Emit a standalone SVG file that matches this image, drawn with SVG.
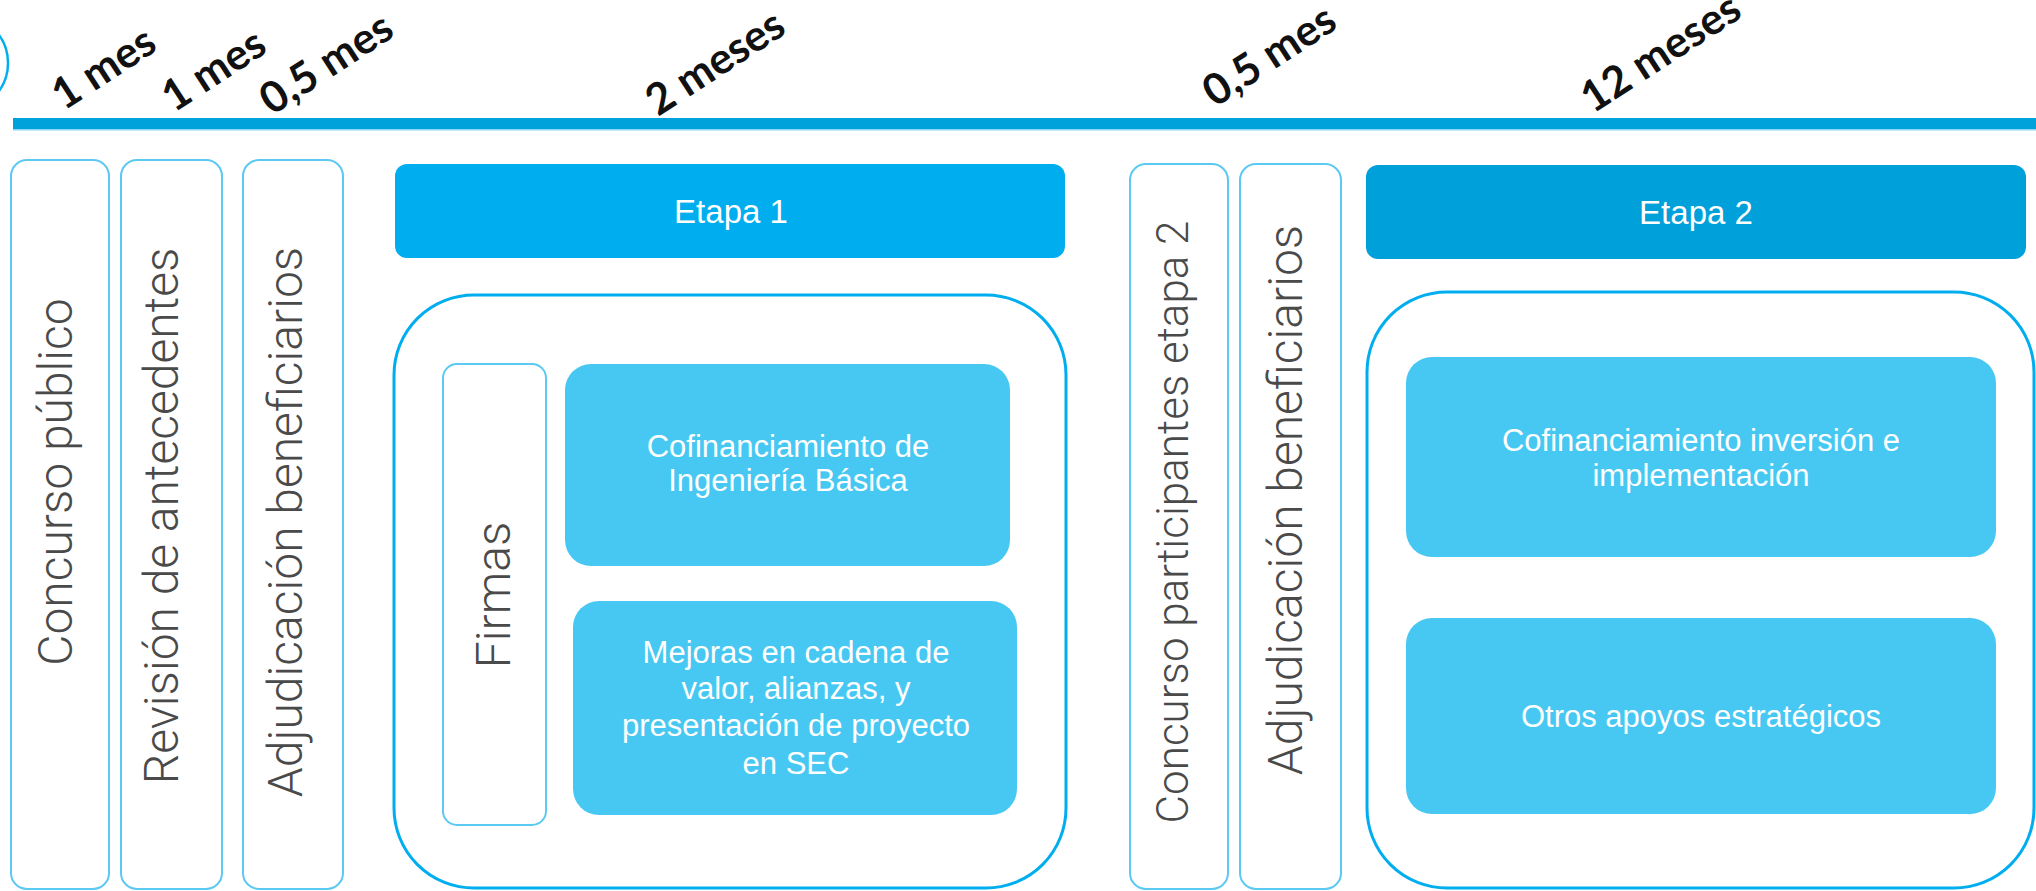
<svg xmlns="http://www.w3.org/2000/svg" width="2036" height="891" viewBox="0 0 2036 891">
<style>
.dur{font-family:Lato,"Liberation Sans",sans-serif;font-weight:700;font-size:43px;fill:#111}
.thin{fill:#fff;stroke:#5CC9F2;stroke-width:2}
.vlab{font-family:Roboto,"Liberation Sans",sans-serif;font-weight:300;font-size:48px;fill:#4a4a4a;text-anchor:middle}
.head{stroke:none}
.headtxt{font-family:"Liberation Sans",Arial,sans-serif;font-size:33px;fill:#fff;text-anchor:middle}
.cont{fill:#fff;stroke:#00AEEF;stroke-width:3}
.inner{fill:#47C8F2}
.itxt{font-family:"Liberation Sans",Arial,sans-serif;font-size:31px;fill:#fff;text-anchor:middle}
</style>
<rect width="2036" height="891" fill="#fff"/>
<g id="timeline">
<circle cx="-40" cy="63" r="48" fill="none" stroke="#00AEEF" stroke-width="2.5"/>
<rect x="13" y="118" width="2023" height="12" fill="#00A2DC"/>
<rect x="13" y="129" width="2023" height="1.5" fill="#8CD6F2"/>
<text class="dur" transform="translate(64,111) rotate(-33)">1 mes</text>
<text class="dur" transform="translate(174,113) rotate(-33)">1 mes</text>
<text class="dur" transform="translate(272,116) rotate(-33)">0,5 mes</text>
<text class="dur" transform="translate(658,117) rotate(-33)">2 meses</text>
<text class="dur" transform="translate(1215,108) rotate(-33)">0,5 mes</text>
<text class="dur" transform="translate(1593,114) rotate(-33)">12 meses</text>
</g>
<g id="connectors"></g>
<g id="concurso-publico">
<rect class="thin" x="11" y="160" width="98" height="729" rx="16"/>
<text class="vlab" transform="translate(72,482) rotate(-90)">Concurso público</text>
</g>
<g id="revision-antecedentes">
<rect class="thin" x="121" y="160" width="101" height="729" rx="16"/>
<text class="vlab" transform="translate(178,516) rotate(-90)">Revisión de antecedentes</text>
</g>
<g id="adjudicacion-1">
<rect class="thin" x="243" y="160" width="100" height="729" rx="16"/>
<text class="vlab" transform="translate(302,522) rotate(-90)">Adjudicación beneficiarios</text>
</g>
<g id="etapa1-header">
<rect class="head" x="395" y="164" width="670" height="94" rx="12" fill="#00AEEF"/>
<text class="headtxt" x="731" y="223">Etapa 1</text>
</g>
<g id="etapa1">
<rect class="cont" x="394" y="295" width="672" height="593" rx="80"/>
<g id="firmas">
<rect class="thin" x="443" y="364" width="103" height="461" rx="14"/>
<text class="vlab" transform="translate(510,595) rotate(-90)">Firmas</text>
</g>
<g id="cofinanciamiento-ingenieria">
<rect class="inner" x="565" y="364" width="445" height="202" rx="26"/>
<text class="itxt" x="788" y="457">Cofinanciamiento de</text>
<text class="itxt" x="788" y="491">Ingeniería Básica</text>
</g>
<g id="mejoras">
<rect class="inner" x="573" y="601" width="444" height="214" rx="26"/>
<text class="itxt" x="796" y="663">Mejoras en cadena de</text>
<text class="itxt" x="796" y="699">valor, alianzas, y</text>
<text class="itxt" x="796" y="736">presentación de proyecto</text>
<text class="itxt" x="796" y="774">en SEC</text>
</g>
</g>
<g id="concurso-etapa2">
<rect class="thin" x="1130" y="164" width="98" height="725" rx="16"/>
<text class="vlab" style="font-size:44px" transform="translate(1188,522) rotate(-90)">Concurso participantes etapa 2</text>
</g>
<g id="adjudicacion-2">
<rect class="thin" x="1240" y="164" width="101" height="725" rx="16"/>
<text class="vlab" transform="translate(1302,500) rotate(-90)">Adjudicación beneficiarios</text>
</g>
<g id="etapa2-header">
<rect class="head" x="1366" y="165" width="660" height="94" rx="12" fill="#00A0DA"/>
<text class="headtxt" x="1696" y="224">Etapa 2</text>
</g>
<g id="etapa2">
<rect class="cont" x="1367" y="292" width="667" height="596" rx="80"/>
<g id="cofinanciamiento-inversion">
<rect class="inner" x="1406" y="357" width="590" height="200" rx="26"/>
<text class="itxt" x="1701" y="451">Cofinanciamiento inversión e</text>
<text class="itxt" x="1701" y="486">implementación</text>
</g>
<g id="otros-apoyos">
<rect class="inner" x="1406" y="618" width="590" height="196" rx="26"/>
<text class="itxt" x="1701" y="727">Otros apoyos estratégicos</text>
</g>
</g>
</svg>
